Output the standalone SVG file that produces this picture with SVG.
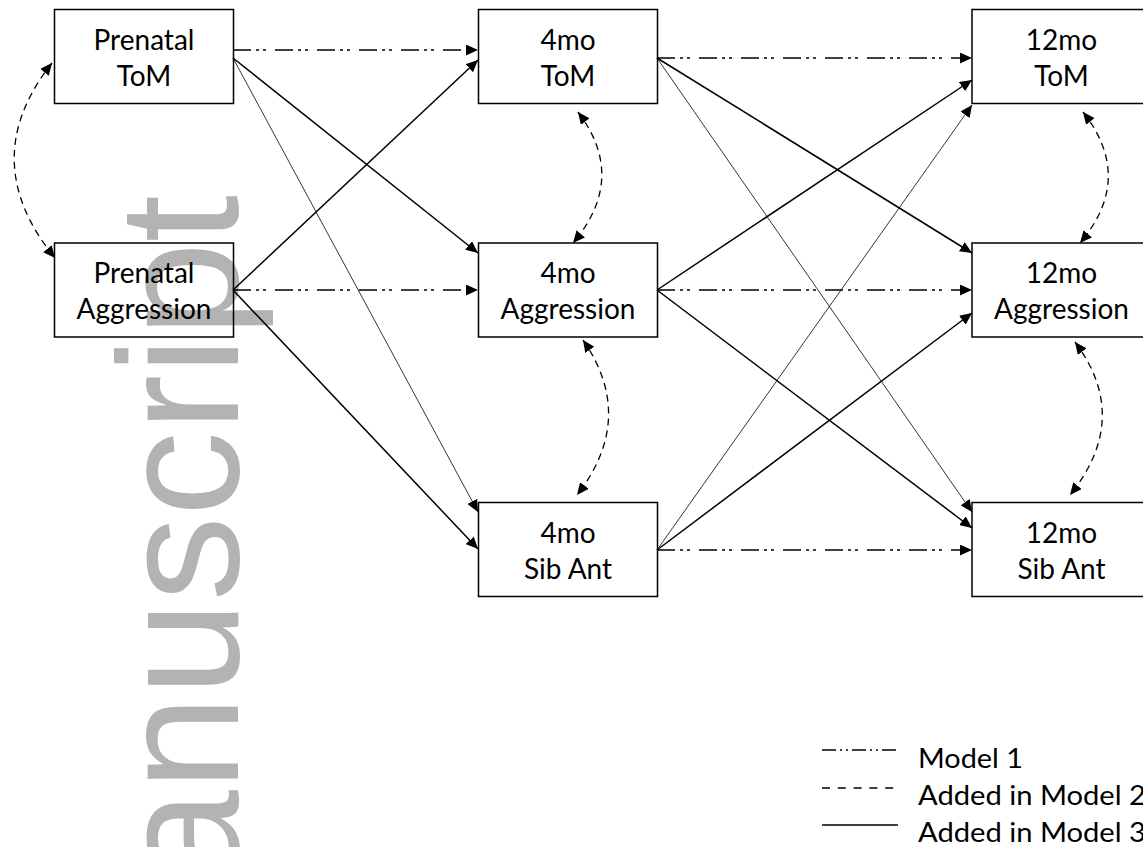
<svg xmlns="http://www.w3.org/2000/svg" width="1143" height="847" viewBox="0 0 1143 847">
<style>
.box{fill:none;stroke:#000;stroke-width:1.5}
.lbl{font-family:Lato,"Liberation Sans",sans-serif;font-size:28px;fill:#000;text-anchor:middle}
.leg{font-family:Lato,"Liberation Sans",sans-serif;font-size:26px;fill:#000}
.m1{fill:none;stroke:#000;stroke-width:1.5;stroke-dasharray:18 5 3 4 3 9}
.m2{fill:none;stroke:#000;stroke-width:1.3;stroke-dasharray:7 5}
.m3{fill:none;stroke:#000;stroke-width:1.5}
.m3t{fill:none;stroke:#000;stroke-width:0.8}
.wm{font-family:"Liberation Sans",Arial,sans-serif;font-size:170px;fill:#b3b3b3}
</style>
<defs>
<marker id="ah" viewBox="0 0 12 11" refX="12" refY="5.5" markerWidth="12" markerHeight="11" markerUnits="userSpaceOnUse" orient="auto-start-reverse">
<path d="M0,0 L12,5.5 L0,11 z" fill="#000"/>
</marker>
</defs>
<rect width="1143" height="847" fill="#fff"/>
<text class="wm" transform="translate(238,195) rotate(-90)" text-anchor="end">anuscript</text>

<g id="connectors">
<path class="m1" d="M233,50 L478,50" marker-end="url(#ah)"/>
<path class="m1" d="M233,290 L478,290" marker-end="url(#ah)"/>
<path class="m1" d="M657,58 L972,58" marker-end="url(#ah)"/>
<path class="m1" d="M657,290 L972,290" marker-end="url(#ah)"/>
<path class="m1" d="M657,550 L972,550" marker-end="url(#ah)"/>

<path class="m3" d="M233,58 L478,253" marker-end="url(#ah)"/>
<path class="m3t" d="M233,58 L478,512" marker-end="url(#ah)"/>
<path class="m3" d="M233,290 L478,60" marker-end="url(#ah)"/>
<path class="m3" d="M233,290 L478,549" marker-end="url(#ah)"/>
<path class="m3" d="M657,58 L972,253" marker-end="url(#ah)"/>
<path class="m3t" d="M657,58 L972,512" marker-end="url(#ah)"/>
<path class="m3" d="M657,290 L972,80" marker-end="url(#ah)"/>
<path class="m3" d="M657,290 L972,528" marker-end="url(#ah)"/>
<path class="m3t" d="M657,550 L972,105" marker-end="url(#ah)"/>
<path class="m3" d="M657,550 L972,313" marker-end="url(#ah)"/>

<path class="m2" d="M52,63 Q-25,160 55,258" marker-start="url(#ah)" marker-end="url(#ah)"/>
<path class="m2" d="M578,112 Q628,178 573,243" marker-start="url(#ah)" marker-end="url(#ah)"/>
<path class="m2" d="M583,340 Q637,418 577,495" marker-start="url(#ah)" marker-end="url(#ah)"/>
<path class="m2" d="M1083,112 Q1135,178 1080,243" marker-start="url(#ah)" marker-end="url(#ah)"/>
<path class="m2" d="M1075,342 Q1132,418 1070,495" marker-start="url(#ah)" marker-end="url(#ah)"/>
</g>

<g id="prenatal-tom"><rect class="box" x="54.5" y="9.5" width="179" height="94"/><text class="lbl" x="144" y="50">Prenatal</text><text class="lbl" x="144" y="86">ToM</text></g>
<g id="prenatal-aggression"><rect class="box" x="54.5" y="243" width="179" height="94"/><text class="lbl" x="144" y="283">Prenatal</text><text class="lbl" x="144" y="319">Aggression</text></g>
<g id="m4-tom"><rect class="box" x="478.5" y="9.5" width="179" height="94"/><text class="lbl" x="568" y="50">4mo</text><text class="lbl" x="568" y="86">ToM</text></g>
<g id="m4-aggression"><rect class="box" x="478.5" y="243" width="179" height="94"/><text class="lbl" x="568" y="283">4mo</text><text class="lbl" x="568" y="319">Aggression</text></g>
<g id="m4-sibant"><rect class="box" x="478.5" y="502.5" width="179" height="94"/><text class="lbl" x="568" y="543">4mo</text><text class="lbl" x="568" y="579">Sib Ant</text></g>
<g id="m12-tom"><rect class="box" x="972" y="9.5" width="179" height="94"/><text class="lbl" x="1061.5" y="50">12mo</text><text class="lbl" x="1061.5" y="86">ToM</text></g>
<g id="m12-aggression"><rect class="box" x="972" y="243" width="179" height="94"/><text class="lbl" x="1061.5" y="283">12mo</text><text class="lbl" x="1061.5" y="319">Aggression</text></g>
<g id="m12-sibant"><rect class="box" x="972" y="502.5" width="179" height="94"/><text class="lbl" x="1061.5" y="543">12mo</text><text class="lbl" x="1061.5" y="579">Sib Ant</text></g>

<g id="legend">
<path d="M822,750 L898,750" fill="none" stroke="#000" stroke-width="1.3" stroke-dasharray="14 4 2 4 2 4"/>
<path d="M822,788 L894,788" fill="none" stroke="#000" stroke-width="1.3" stroke-dasharray="8 7.8"/>
<path d="M822,825 L898,825" fill="none" stroke="#000" stroke-width="1.5"/>
<text class="leg" x="918" y="768" textLength="105" lengthAdjust="spacingAndGlyphs">Model 1</text>
<text class="leg" x="918" y="805" textLength="228" lengthAdjust="spacingAndGlyphs">Added in Model 2</text>
<text class="leg" x="918" y="842" textLength="228" lengthAdjust="spacingAndGlyphs">Added in Model 3</text>
</g>
</svg>
